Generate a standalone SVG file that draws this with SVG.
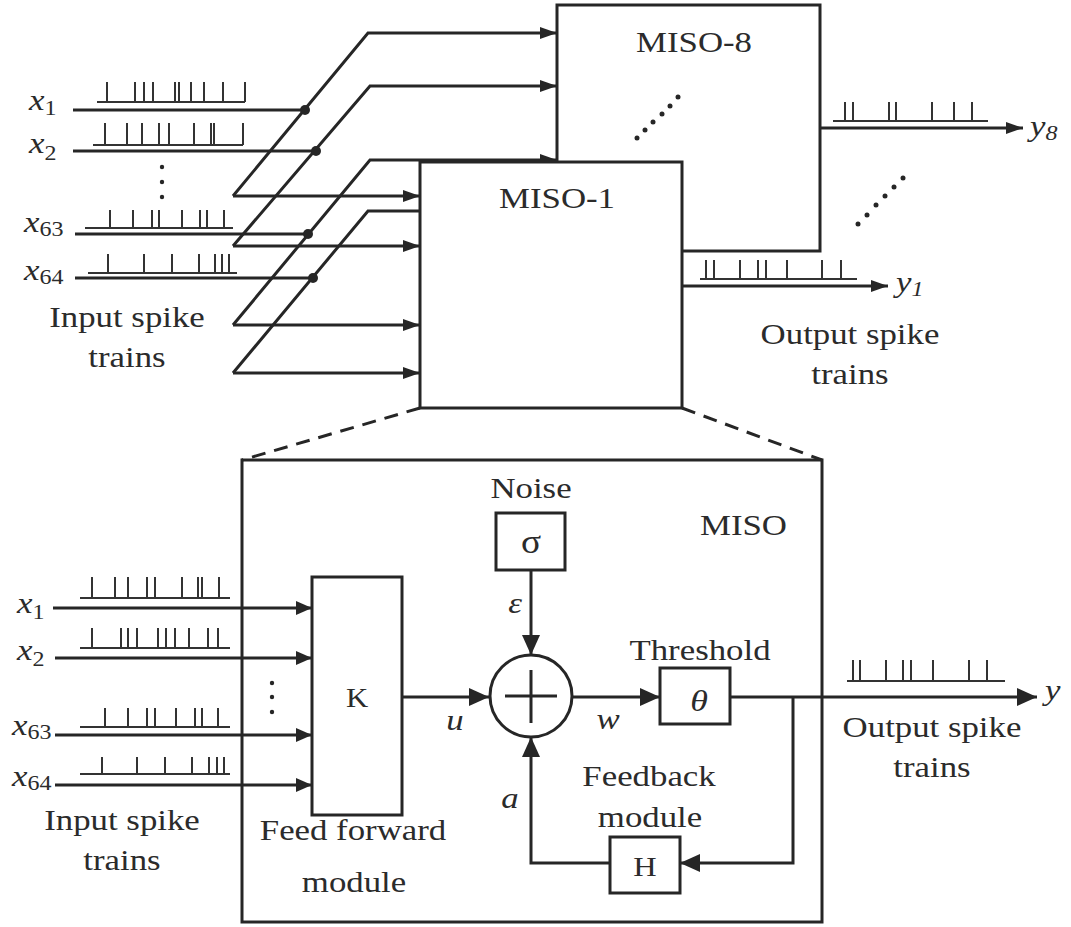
<svg xmlns="http://www.w3.org/2000/svg" width="1071" height="927" viewBox="0 0 1071 927">
<style>
.ln{fill:none;stroke:#262626;stroke-width:3}
.sp{fill:none;stroke:#333;stroke-width:2}
.bx{fill:#fff;stroke:#262626;stroke-width:3}
.bo{fill:none;stroke:#262626;stroke-width:3}
.t{font-family:"Liberation Serif","Times New Roman",serif;font-size:29px;fill:#2b2b2b}
.i{font-style:italic}
.dot{fill:#262626}
</style>
<defs>
<marker id="as" markerUnits="userSpaceOnUse" markerWidth="17" markerHeight="12" refX="17" refY="6" orient="auto"><path d="M0,0 L17,6 L0,12 z" fill="#262626"/></marker>
<marker id="am" markerUnits="userSpaceOnUse" markerWidth="16" markerHeight="14" refX="16" refY="7" orient="auto"><path d="M0,0 L16,7 L0,14 z" fill="#262626"/></marker>
<marker id="al" markerUnits="userSpaceOnUse" markerWidth="20" markerHeight="18" refX="20" refY="9" orient="auto"><path d="M0,0 L20,9 L0,18 z" fill="#262626"/></marker>
</defs>
<rect width="1071" height="927" fill="#fff"/>

<g id="miso">
<rect class="bo" x="242" y="460" width="580" height="462"/>
<text class="t" transform="translate(700,535) scale(1.2,1)">MISO</text>
</g>

<g id="connectors">
<!-- top inputs -->
<path class="ln" d="M73,110 H305"/>
<path class="ln" d="M73,151 H316"/>
<path class="ln" d="M75,234 H308"/>
<path class="ln" d="M75,278 H313"/>
<path class="ln" d="M233,196 L368,33 H557" marker-end="url(#as)"/>
<path class="ln" d="M233,196 H420" marker-end="url(#as)"/>
<path class="ln" d="M233,246 L370,86 H557" marker-end="url(#as)"/>
<path class="ln" d="M233,246 H420" marker-end="url(#as)"/>
<path class="ln" d="M233,325 L370,160 H557" marker-end="url(#as)"/>
<path class="ln" d="M233,325 H420" marker-end="url(#as)"/>
<path class="ln" d="M233,373 L368,211 H420"/>
<path class="ln" d="M233,373 H420" marker-end="url(#as)"/>
<circle class="dot" cx="305" cy="110" r="5"/>
<circle class="dot" cx="316" cy="151" r="5"/>
<circle class="dot" cx="308" cy="234" r="5"/>
<circle class="dot" cx="313" cy="278" r="5"/>
<!-- top outputs -->
<path class="ln" d="M820,128 H1023" marker-end="url(#as)"/>
<path class="ln" d="M682,286 H888" marker-end="url(#as)"/>
<!-- zoom dashed -->
<path class="ln" d="M420,408 L242,460" stroke-dasharray="14 9"/>
<path class="ln" d="M682,408 L822,460" stroke-dasharray="14 9"/>
<!-- bottom inputs -->
<path class="ln" d="M53,608 H312" marker-end="url(#am)"/>
<path class="ln" d="M55,658 H312" marker-end="url(#am)"/>
<path class="ln" d="M55,735 H312" marker-end="url(#am)"/>
<path class="ln" d="M55,785 H312" marker-end="url(#am)"/>
<!-- internal -->
<path class="ln" d="M402,697 H489" marker-end="url(#al)"/>
<path class="ln" d="M531,570 V655" marker-end="url(#al)"/>
<path class="ln" d="M573,697 H660" marker-end="url(#al)"/>
<path class="ln" d="M730,697 H1037" marker-end="url(#al)"/>
<path class="ln" d="M793,697 V863 H680" marker-end="url(#al)"/>
<path class="ln" d="M610,863 H531 V737" marker-end="url(#al)"/>
</g>

<g id="miso-8">
<rect class="bx" x="557" y="5" width="263" height="246"/>
<text class="t" text-anchor="middle" transform="translate(694,52) scale(1.2,1)">MISO-8</text>
<g class="dot"><circle cx="637" cy="138" r="2.5"/><circle cx="645" cy="130" r="2.5"/><circle cx="653" cy="122" r="2.5"/><circle cx="662" cy="114" r="2.5"/><circle cx="670" cy="106" r="2.5"/><circle cx="678" cy="97" r="2.5"/></g>
</g>

<g id="miso-1">
<rect class="bx" x="420" y="162" width="262" height="246"/>
<text class="t" text-anchor="middle" transform="translate(557,208) scale(1.2,1)">MISO-1</text>
</g>

<g id="top-inputs">
<path class="sp" d="M97,102 H245 M107,102 V82 M135,102 V82 M144,102 V82 M153,102 V82 M175,102 V82 M179,102 V82 M191,102 V82 M204,102 V82 M223,102 V82 M245,102 V82"/>
<path class="sp" d="M93,145 H243 M105,145 V123 M127,145 V123 M142,145 V123 M159,145 V123 M169,145 V123 M194,145 V123 M211,145 V123 M214,145 V123 M243,145 V123"/>
<path class="sp" d="M85,228 H233 M110,228 V210 M133,228 V210 M152,228 V210 M159,228 V210 M182,228 V210 M200,228 V210 M207,228 V210 M224,228 V210"/>
<path class="sp" d="M88,273 H237 M108,273 V254 M144,273 V254 M172,273 V254 M199,273 V254 M215,273 V254 M222,273 V254 M229,273 V254"/>
<g class="dot"><circle cx="162" cy="167" r="2.2"/><circle cx="162" cy="182" r="2.2"/><circle cx="162" cy="197" r="2.2"/></g>
<text class="t" transform="translate(29,110) scale(1.2,1)"><tspan class="i">x</tspan><tspan font-size="20" dy="5">1</tspan></text>
<text class="t" transform="translate(29,153) scale(1.2,1)"><tspan class="i">x</tspan><tspan font-size="20" dy="7">2</tspan></text>
<text class="t" transform="translate(24,232) scale(1.2,1)"><tspan class="i">x</tspan><tspan font-size="20" dy="4">63</tspan></text>
<text class="t" transform="translate(24,280) scale(1.2,1)"><tspan class="i">x</tspan><tspan font-size="20" dy="4">64</tspan></text>
<text class="t" text-anchor="middle" transform="translate(127,327) scale(1.2,1)">Input spike</text>
<text class="t" text-anchor="middle" transform="translate(127,367) scale(1.2,1)">trains</text>
</g>

<g id="top-outputs">
<path class="sp" d="M833,121 H988 M845,121 V102 M853,121 V102 M889,121 V102 M896,121 V102 M932,121 V102 M954,121 V102 M972,121 V102"/>
<path class="sp" d="M700,279 H857 M706,279 V260 M714,279 V260 M740,279 V260 M758,279 V260 M766,279 V260 M787,279 V260 M822,279 V260 M841,279 V260"/>
<g class="dot"><circle cx="858" cy="224" r="2.5"/><circle cx="867" cy="215" r="2.5"/><circle cx="876" cy="205" r="2.5"/><circle cx="885" cy="196" r="2.5"/><circle cx="894" cy="187" r="2.5"/><circle cx="903" cy="178" r="2.5"/></g>
<text class="t" transform="translate(1030,136) scale(1.2,1)"><tspan class="i">y</tspan><tspan class="i" font-size="20" dy="4">8</tspan></text>
<text class="t" transform="translate(896,292) scale(1.2,1)"><tspan class="i">y</tspan><tspan class="i" font-size="20" dy="4">1</tspan></text>
<text class="t" text-anchor="middle" transform="translate(850,344) scale(1.2,1)">Output spike</text>
<text class="t" text-anchor="middle" transform="translate(850,384) scale(1.2,1)">trains</text>
</g>

<g id="feed-forward">
<rect class="bx" x="312" y="577" width="90" height="238"/>
<text class="t" text-anchor="middle" transform="translate(357,707) scale(1.1,1)" style="font-size:28px">K</text>
<text class="t" text-anchor="middle" transform="translate(353,840) scale(1.2,1)">Feed forward</text>
<text class="t" text-anchor="middle" transform="translate(354,892) scale(1.2,1)">module</text>
</g>

<g id="noise">
<rect class="bx" x="496" y="513" width="69" height="57"/>
<text class="t" text-anchor="middle" transform="translate(531,553) scale(1.1,1)" style="font-size:34px">σ</text>
<text class="t" text-anchor="middle" transform="translate(531,498) scale(1.2,1)">Noise</text>
<text class="t i" text-anchor="middle" transform="translate(515,613) scale(1.2,1)">ε</text>
</g>

<g id="sum">
<circle cx="531" cy="696" r="41" class="bx"/>
<path class="ln" d="M505,696 H557 M531,670 V723"/>
<text class="t i" text-anchor="middle" transform="translate(455,730) scale(1.2,1)">u</text>
<text class="t i" text-anchor="middle" transform="translate(608,729) scale(1.2,1)">w</text>
<text class="t i" text-anchor="middle" transform="translate(510,808) scale(1.2,1)">a</text>
</g>

<g id="threshold">
<rect class="bx" x="660" y="668" width="70" height="56"/>
<text class="t i" text-anchor="middle" transform="translate(699,711) scale(1.2,1)" style="font-size:30px">θ</text>
<text class="t" text-anchor="middle" transform="translate(700,660) scale(1.2,1)">Threshold</text>
</g>

<g id="feedback">
<rect class="bx" x="610" y="837" width="70" height="56"/>
<text class="t" text-anchor="middle" transform="translate(645,876) scale(1.2,1)" style="font-size:27px">H</text>
<text class="t" text-anchor="middle" transform="translate(649,786) scale(1.2,1)">Feedback</text>
<text class="t" text-anchor="middle" transform="translate(650,827) scale(1.2,1)">module</text>
</g>

<g id="bottom-inputs">
<path class="sp" d="M80,598 H230 M92,598 V577 M115,598 V577 M128,598 V577 M147,598 V577 M155,598 V577 M182,598 V577 M198,598 V577 M202,598 V577 M219,598 V577"/>
<path class="sp" d="M80,648 H230 M92,648 V628 M121,648 V628 M128,648 V628 M137,648 V628 M158,648 V628 M166,648 V628 M175,648 V628 M189,648 V628 M208,648 V628 M218,648 V628"/>
<path class="sp" d="M80,727 H230 M105,727 V708 M128,727 V708 M147,727 V708 M155,727 V708 M176,727 V708 M195,727 V708 M202,727 V708 M218,727 V708"/>
<path class="sp" d="M80,774 H230 M102,774 V757 M137,774 V757 M165,774 V757 M192,774 V757 M209,774 V757 M217,774 V757 M224,774 V757"/>
<g class="dot"><circle cx="272" cy="683" r="2.2"/><circle cx="272" cy="697" r="2.2"/><circle cx="272" cy="712" r="2.2"/></g>
<text class="t" transform="translate(17,613) scale(1.2,1)"><tspan class="i">x</tspan><tspan font-size="20" dy="6">1</tspan></text>
<text class="t" transform="translate(17,660) scale(1.2,1)"><tspan class="i">x</tspan><tspan font-size="20" dy="6">2</tspan></text>
<text class="t" transform="translate(12,735) scale(1.2,1)"><tspan class="i">x</tspan><tspan font-size="20" dy="4">63</tspan></text>
<text class="t" transform="translate(12,786) scale(1.2,1)"><tspan class="i">x</tspan><tspan font-size="20" dy="4">64</tspan></text>
<text class="t" text-anchor="middle" transform="translate(122,830) scale(1.2,1)">Input spike</text>
<text class="t" text-anchor="middle" transform="translate(122,870) scale(1.2,1)">trains</text>
</g>

<g id="output">
<path class="sp" d="M847,681 H1005 M853,681 V660 M860,681 V660 M886,681 V660 M903,681 V660 M911,681 V660 M933,681 V660 M969,681 V660 M987,681 V660"/>
<text class="t i" transform="translate(1045,700) scale(1.2,1)">y</text>
<text class="t" text-anchor="middle" transform="translate(932,737) scale(1.2,1)">Output spike</text>
<text class="t" text-anchor="middle" transform="translate(932,777) scale(1.2,1)">trains</text>
</g>
</svg>
